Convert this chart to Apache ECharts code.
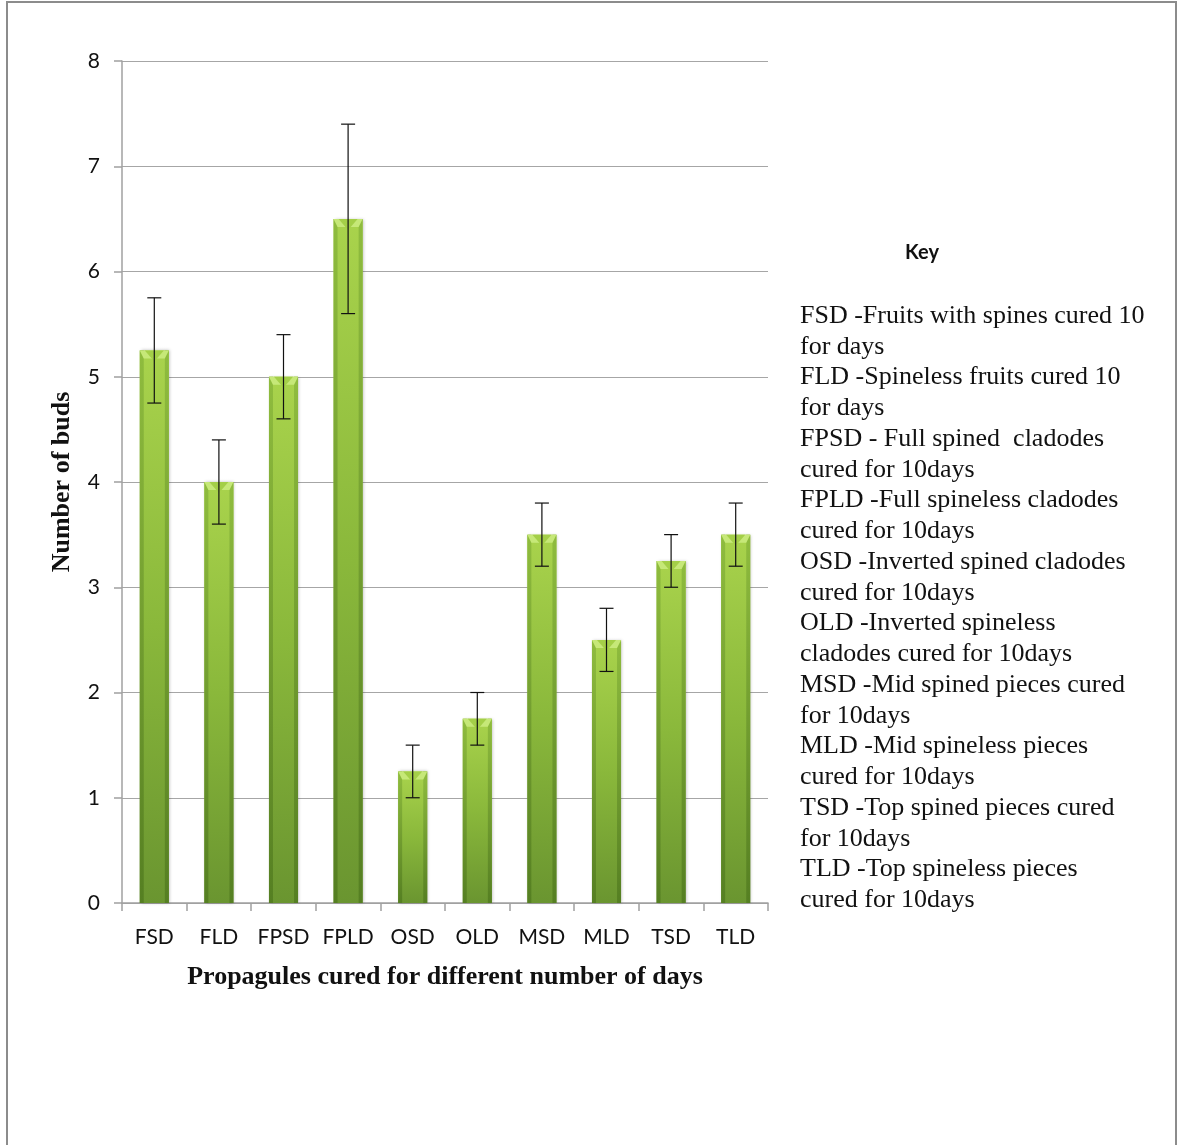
<!DOCTYPE html>
<html><head><meta charset="utf-8">
<script src="https://cdn.jsdelivr.net/npm/echarts@6/dist/echarts.min.js"></script>
<style>html,body{margin:0;padding:0;background:#fff}#c{width:1178px;height:1145px}</style>
</head><body><div id="c"></div>
<script>
const categories = ['FSD','FLD','FPSD','FPLD','OSD','OLD','MSD','MLD','TSD','TLD'];
const meanBuds = [5.25, 4, 5, 6.5, 1.25, 1.75, 3.5, 2.5, 3.25, 3.5];
const errLow = [4.75, 3.6, 4.6, 5.6, 1.0, 1.5, 3.2, 2.2, 3.0, 3.2];
const errHigh = [5.75, 4.4, 5.4, 7.4, 1.5, 2.0, 3.8, 2.8, 3.5, 3.8];
const yTicks = [0,1,2,3,4,5,6,7,8];
const keyTitle = 'Key';
const keyLines = [
 'FSD -Fruits with spines cured 10','for days',
 'FLD -Spineless fruits cured 10','for days',
 'FPSD - Full spined  cladodes','cured for 10days',
 'FPLD -Full spineless cladodes','cured for 10days',
 'OSD -Inverted spined cladodes','cured for 10days',
 'OLD -Inverted spineless','cladodes cured for 10days',
 'MSD -Mid spined pieces cured','for 10days',
 'MLD -Mid spineless pieces','cured for 10days',
 'TSD -Top spined pieces cured','for 10days',
 'TLD -Top spineless pieces','cured for 10days'
];
const chart = echarts.init(document.getElementById('c'));
const serif = '"Liberation Serif","Times New Roman",serif';
const sans = 'Lato,"Open Sans",sans-serif';

function renderBar(params, api){
  const i = api.value(0);
  const v = api.value(1);
  const top = api.coord([i, v]);
  const base = api.coord([i, 0]);
  const bw = api.size([1,0])[0]*0.45;
  const x = top[0]-bw/2, y = top[1], h = base[1]-top[1];
  const bev = 8;
  const edge = 4;
  const edgeGrad = () => new echarts.graphic.LinearGradient(0,0,0,1,[{offset:0,color:'#8fbc3e'},{offset:1,color:'#557f22'}]);
  return {type:'group', children:[
    {type:'rect', shape:{x:x,y:y,width:bw,height:h}, style:{fill:new echarts.graphic.LinearGradient(0,0,0,1,[{offset:0,color:'#a9d34c'},{offset:0.5,color:'#8ab83b'},{offset:1,color:'#6a9530'}]), shadowBlur:3, shadowColor:'rgba(0,0,0,0.25)', shadowOffsetX:1}},
    {type:'rect', shape:{x:x,y:y,width:edge,height:h}, style:{fill:edgeGrad()}},
    {type:'rect', shape:{x:x+bw-edge,y:y,width:edge,height:h}, style:{fill:edgeGrad()}},
    {type:'polygon', shape:{points:[[x,y],[x+bw,y],[x+bw-edge,y+bev],[x+edge,y+bev]]}, style:{fill:'#c6e878'}},
    {type:'polygon', shape:{points:[[x+edge+1,y],[x+bw-edge-1,y],[x+bw/2,y+bev+3]]}, style:{fill:'#a4cf48'}}
  ]};
}
function renderErr(params, api){
  const i = api.value(0);
  const lo = api.coord([i, api.value(1)]);
  const hi = api.coord([i, api.value(2)]);
  const w = 7;
  const st = {stroke:'#111', lineWidth:1.2};
  return {type:'group', children:[
    {type:'line', shape:{x1:hi[0],y1:hi[1],x2:lo[0],y2:lo[1]}, style:st},
    {type:'line', shape:{x1:hi[0]-w,y1:hi[1],x2:hi[0]+w,y2:hi[1]}, style:st},
    {type:'line', shape:{x1:lo[0]-w,y1:lo[1],x2:lo[0]+w,y2:lo[1]}, style:st}
  ]};
}

const graphics = [
  {type:'rect', shape:{x:7,y:2,width:1169,height:1160}, style:{fill:'none',stroke:'#8c8c8c',lineWidth:2}, silent:true},
  {type:'text', x:922, y:253, style:{text:keyTitle, font:'bold 20px '+sans, fill:'#111', textAlign:'center', textVerticalAlign:'middle'}}
];
keyLines.forEach((t,k)=>{
  graphics.push({type:'text', x:800, y:316+k*30.75, style:{text:t, font:'26px '+serif, fill:'#111', textAlign:'left', textVerticalAlign:'middle'}});
});

chart.setOption({
  animation:false,
  backgroundColor:'#fff',
  grid:{left:122, right:410, top:61, bottom:242, containLabel:false},
  xAxis:{type:'category', data:categories, boundaryGap:true,
    axisLine:{lineStyle:{color:'#a0a0a0',width:1.5}},
    axisTick:{show:true, interval:0, length:8, alignWithLabel:false, lineStyle:{color:'#a0a0a0',width:1.5}},
    axisLabel:{color:'#111', interval:0, hideOverlap:false, fontSize:21, fontFamily:sans, margin:24},
    name:'Propagules cured for different number of days', nameLocation:'middle', nameGap:61,
    nameTextStyle:{fontFamily:serif, fontWeight:'bold', fontSize:26, color:'#111'}
  },
  yAxis:{type:'value', min:0, max:8, interval:1,
    axisLine:{show:true, lineStyle:{color:'#a0a0a0',width:1.5}},
    axisTick:{show:true, length:8, lineStyle:{color:'#a0a0a0',width:1.5}},
    splitLine:{lineStyle:{color:'#a6a6a6',width:1.2}},
    axisLabel:{color:'#111', fontSize:21, fontFamily:sans, margin:22},
    name:'Number of buds', nameLocation:'middle', nameGap:47, nameRotate:90,
    nameTextStyle:{fontFamily:serif, fontWeight:'bold', fontSize:26, color:'#111'}
  },
  series:[
    {type:'custom', renderItem:renderBar, data:meanBuds.map((v,i)=>[i,v]), encode:{x:0,y:1}, z:2},
    {type:'custom', renderItem:renderErr, data:errLow.map((v,i)=>[i,v,errHigh[i]]), encode:{x:0,y:[1,2]}, z:3}
  ],
  graphic:graphics
});
</script></body></html>
